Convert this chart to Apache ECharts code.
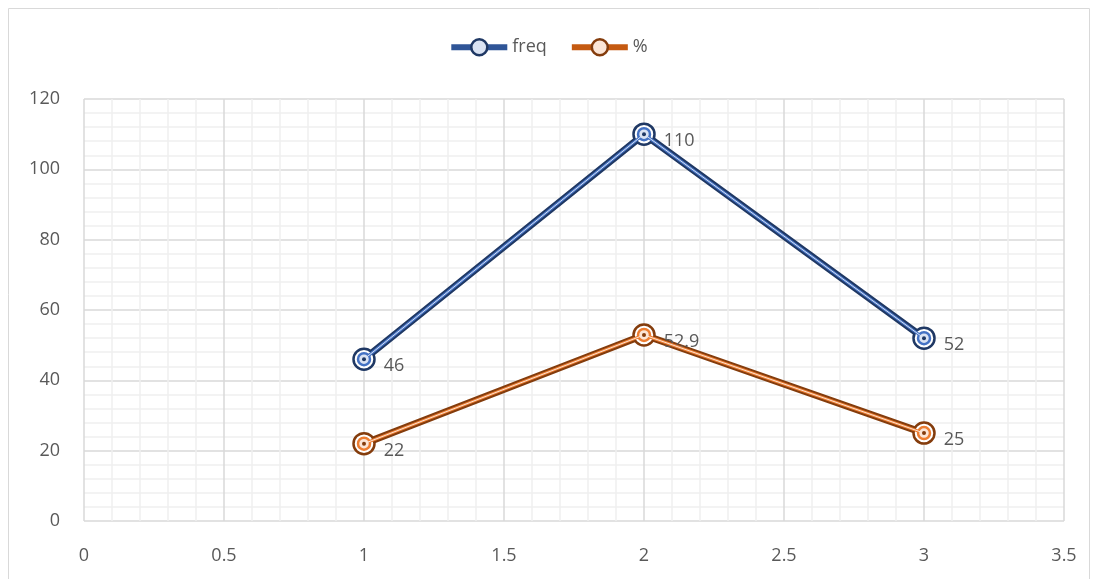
<!DOCTYPE html>
<html>
<head>
<meta charset="utf-8">
<script src="https://cdn.jsdelivr.net/npm/echarts@6/dist/echarts.min.js"></script>
<style>
  html, body { margin: 0; padding: 0; background: #fff; }
  #main { width: 1096px; height: 579px; }
</style>
</head>
<body>
<div id="main"></div>
<script>
// 数据
const xValues = [1, 2, 3];
const freqValues = [46, 110, 52];
const pctValues = [22, 52.9, 25];

const chart = echarts.init(document.getElementById('main'));

function pairs(ys) {
  return xValues.map((x, i) => [x, ys[i]]);
}

// 双线效果：底层粗深色线 + 上层细浅色线
function makeSeries(name, ys, dark, mid, light) {
  return [
    {
      name: name,
      type: 'line',
      data: pairs(ys),
      symbol: 'circle',
      symbolSize: 21,
      lineStyle: { color: dark, width: 7 },
      itemStyle: { color: '#ffffff', borderColor: dark, borderWidth: 2.5 },
      label: {
        show: true,
        position: 'right',
        distance: 8,
        offset: [0, 7],
        color: '#595959',
        fontSize: 18,
        fontFamily: 'Open Sans'
      },
      z: 2
    },
    {
      name: name + '_inner',
      type: 'line',
      data: pairs(ys),
      symbol: 'circle',
      symbolSize: 12,
      lineStyle: { color: mid, width: 3 },
      itemStyle: { color: light, borderColor: mid, borderWidth: 2.5 },
      silent: true,
      z: 3
    },
    {
      name: name + '_core',
      type: 'line',
      data: pairs(ys),
      symbol: 'circle',
      symbolSize: 4,
      lineStyle: { color: light, width: 1 },
      itemStyle: { color: dark },
      silent: true,
      z: 4
    }
  ];
}

const axisLabelStyle = { color: '#595959', fontSize: 18, fontFamily: 'Open Sans' };

chart.setOption({
  animation: false,
  graphic: [{
    type: 'rect',
    shape: { x: 8.5, y: 8.5, width: 1081, height: 600 },
    style: { fill: 'none', stroke: '#d9d9d9', lineWidth: 1 },
    silent: true
  }],
  legend: {
    data: [
      {
        name: 'freq',
        itemStyle: { color: '#dae3f3', borderColor: '#1f3864', borderWidth: 2.5 },
        lineStyle: { color: '#2f5597', width: 6 }
      },
      {
        name: '%',
        itemStyle: { color: '#fbe5d6', borderColor: '#843c0c', borderWidth: 2.5 },
        lineStyle: { color: '#c55a11', width: 6 }
      }
    ],
    top: 33,
    left: 'center',
    itemWidth: 56,
    itemHeight: 20,
    itemGap: 22,
    textStyle: { color: '#595959', fontSize: 18, fontFamily: 'Open Sans' }
  },
  grid: { left: 84, right: 32, top: 99, bottom: 58 },
  xAxis: {
    type: 'value',
    min: 0,
    max: 3.5,
    interval: 0.5,
    axisLine: { show: false },
    axisTick: { show: false },
    axisLabel: Object.assign({ margin: 26 }, axisLabelStyle),
    splitLine: { show: true, lineStyle: { color: '#d9d9d9', width: 1.5 } },
    minorTick: { show: false, splitNumber: 5 },
    minorSplitLine: { show: true, lineStyle: { color: '#efefef', width: 1.5 } }
  },
  yAxis: {
    type: 'value',
    min: 0,
    max: 120,
    interval: 20,
    axisLine: { show: false },
    axisTick: { show: false },
    axisLabel: Object.assign({ margin: 24 }, axisLabelStyle),
    splitLine: { show: true, lineStyle: { color: '#d9d9d9', width: 1.5 } },
    minorTick: { show: false, splitNumber: 5 },
    minorSplitLine: { show: true, lineStyle: { color: '#efefef', width: 1.5 } }
  },
  series: [].concat(
    makeSeries('freq', freqValues, '#1f3864', '#4472c4', '#dae3f3'),
    makeSeries('%', pctValues, '#843c0c', '#ed7d31', '#fbe5d6')
  )
});
</script>
</body>
</html>
